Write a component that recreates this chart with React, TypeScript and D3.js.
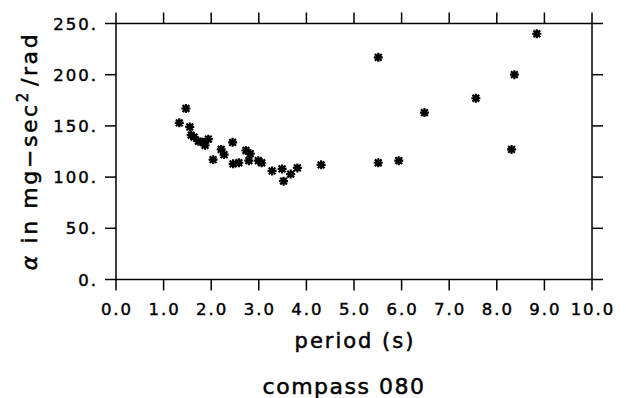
import * as d3 from "d3";

// period (s) and alpha (mg-sec^2/rad)
const periods = [
    1.33, 1.47, 1.55, 1.58, 1.64, 1.73, 1.83, 1.87, 1.94, 2.04, 2.21, 2.27, 2.45, 2.46, 2.58,
    2.73, 2.79, 2.82, 2.99, 3.06, 3.28, 3.49, 3.52, 3.67, 3.81, 4.31, 5.51, 5.51, 5.94, 6.48,
    7.56, 8.31, 8.37, 8.84,
];
const alphas = [
    153, 167, 149, 141, 139, 135, 134, 131, 137, 117, 127, 122, 134, 113, 114,
    126, 116, 123, 116, 114, 106, 108, 96, 103, 109, 112, 217, 114, 116, 163,
    177, 127, 200, 240,
];

const xTicks = [0, 1, 2, 3, 4, 5, 6, 7, 8, 9, 10];
const yTicks = [0, 50, 100, 150, 200, 250];

const W = 626;
const H = 398;
const left = 116;
const right = 592;
const top = 23.5;
const bottom = 279.5;
const font = "'DejaVu Sans', sans-serif";

function star(cx: number, cy: number, r: number) {
    const d = r * 0.75;
    return `M${cx - r},${cy}H${cx + r}M${cx},${cy - r}V${cy + r}` +
        `M${cx - d},${cy - d}L${cx + d},${cy + d}M${cx - d},${cy + d}L${cx + d},${cy - d}`;
}

export default function App() {
    const x = d3.scaleLinear().domain([0, 10]).range([left, right]);
    const y = d3.scaleLinear().domain([0, 250]).range([bottom, top]);
    const tick = 11;

    return (
        <div style={{ position: "absolute", left: 0, top: 0 }}>
            <svg width={W} height={H} style={{ display: "block", background: "#fff" }}>
                <g stroke="#000" strokeWidth={1.5} fill="none">
                    <rect x={left} y={top} width={right - left} height={bottom - top} />
                    {xTicks.map((t) => (
                        <g key={"x" + t}>
                            <line x1={x(t)} x2={x(t)} y1={bottom} y2={bottom + tick} />
                            <line x1={x(t)} x2={x(t)} y1={top} y2={top - tick} />
                        </g>
                    ))}
                    {yTicks.map((t) => (
                        <g key={"y" + t}>
                            <line x1={left} x2={left - tick} y1={y(t)} y2={y(t)} />
                            <line x1={right} x2={right + tick} y1={y(t)} y2={y(t)} />
                        </g>
                    ))}
                </g>

                <g fontFamily={font} fontSize={16.5} fill="#000" stroke="#000" strokeWidth={0.45} letterSpacing={2}>
                    {xTicks.map((t) => (
                        <text key={"xl" + t} x={x(t) + 1} y={315} textAnchor="middle">
                            {t.toFixed(1)}
                        </text>
                    ))}
                    {yTicks.map((t) => (
                        <text key={"yl" + t} x={98} y={y(t) + 6} textAnchor="end">
                            {t + "."}
                        </text>
                    ))}
                </g>

                <g stroke="#000" strokeWidth={2.2} fill="none">
                    {periods.map((p, i) => (
                        <path key={i} d={star(x(p), y(alphas[i]), 4.5)} />
                    ))}
                </g>

                <g fontFamily={font} fill="#000" stroke="#000" strokeWidth={0.5}>
                    <text x={355} y={348} textAnchor="middle" fontSize={21} letterSpacing={2}>
                        period (s)
                    </text>
                    <text x={344} y={394} textAnchor="middle" fontSize={22} letterSpacing={1.5}>
                        compass 080
                    </text>
                    <text
                        transform="translate(37,151) rotate(-90)"
                        textAnchor="middle"
                        fontSize={22}
                        letterSpacing={2.6}
                    >
                        <tspan fontStyle="italic">α</tspan> in mg−sec
                        <tspan fontSize={15} dy={-9}>2</tspan>
                        <tspan dy={9} dx={4}>/rad</tspan>
                    </text>
                </g>
            </svg>
        </div>
    );
}
